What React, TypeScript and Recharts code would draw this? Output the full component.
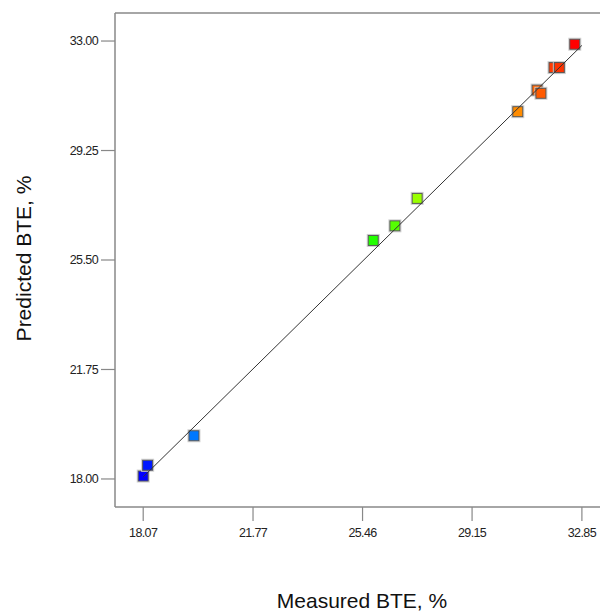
import React from "react";
import { ScatterChart, Scatter, XAxis, YAxis, Cell, ReferenceLine } from "recharts";

const measured = [18.07, 18.22, 19.78, 25.82, 26.55, 27.3, 30.69, 31.34, 31.47, 31.91, 32.09, 32.61];
const predicted = [18.1, 18.47, 19.48, 26.17, 26.67, 27.61, 30.58, 31.32, 31.21, 32.09, 32.09, 32.89];
const pointColors = [
  "#0000FF", "#0018FF", "#0078FF", "#22FF00", "#55FF00", "#99FF00",
  "#FF8C00", "#FF6400", "#FF5A00", "#FF3A00", "#FF3300", "#FF0000",
];
const xTicks = [18.07, 21.77, 25.46, 29.15, 32.85];
const yTicks = [18.0, 21.75, 25.5, 29.25, 33.0];
const lineEnds = [18.07, 32.85];

const X_MIN = 17.12;
const X_MAX = 33.46;
const Y_MIN = 17.04;
const Y_MAX = 33.96;

const points = measured.map((m, i) => ({ x: m, y: predicted[i] }));
const lineData = lineEnds.map((v) => ({ x: v, y: v }));

const Square = (props: any) => {
  const { cx, cy, fill } = props;
  if (cx == null || cy == null) return <g />;
  return (
    <g>
      <rect x={cx - 6} y={cy - 6} width={12} height={12} fill="none" stroke="#d0d0d0" strokeWidth={1} />
      <rect x={cx - 5} y={cy - 5} width={10} height={10} fill={fill} stroke="#555" strokeWidth={1} />
    </g>
  );
};

const tickStyle = { fontSize: 12.5, fill: "#222", fontFamily: "'Liberation Sans', Arial, sans-serif", letterSpacing: -0.6 };
const axisStroke = "#888";

export default function App() {
  return (
    <div
      style={{
        position: "absolute",
        left: 0,
        top: 0,
        width: 600,
        height: 612,
        overflow: "hidden",
        background: "#fff",
        fontFamily: "'Liberation Sans', Arial, sans-serif",
      }}
    >
      <ScatterChart width={600} height={612} margin={{ top: 13, right: 0, bottom: 0, left: 0 }}>
        <XAxis
          type="number"
          dataKey="x"
          domain={[X_MIN, X_MAX]}
          ticks={xTicks}
          allowDataOverflow
          height={105}
          tickSize={14}
          tickMargin={7}
          tick={tickStyle}
          tickFormatter={(v: number) => v.toFixed(2)}
          axisLine={{ stroke: axisStroke, strokeWidth: 1.5 }}
          tickLine={{ stroke: axisStroke, strokeWidth: 1.2 }}
        />
        <YAxis
          type="number"
          dataKey="y"
          domain={[Y_MIN, Y_MAX]}
          ticks={yTicks}
          allowDataOverflow
          width={115}
          tickSize={14}
          tickMargin={3}
          tick={tickStyle}
          tickFormatter={(v: number) => v.toFixed(2)}
          axisLine={{ stroke: axisStroke, strokeWidth: 1.5 }}
          tickLine={{ stroke: axisStroke, strokeWidth: 1.2 }}
        />
        <ReferenceLine y={Y_MAX} stroke={axisStroke} strokeWidth={1.5} />
        <Scatter data={points} shape={<Square />} isAnimationActive={false}>
          {points.map((_, i) => (
            <Cell key={i} fill={pointColors[i]} />
          ))}
        </Scatter>
        <Scatter
          data={lineData}
          line={{ stroke: "#333", strokeWidth: 1 }}
          shape={() => <g />}
          isAnimationActive={false}
        />
      </ScatterChart>
      <div
        style={{
          position: "absolute",
          left: 262,
          top: 590,
          width: 200,
          height: 21,
          lineHeight: "21px",
          fontSize: 21,
          textAlign: "center",
          color: "#111",
          whiteSpace: "nowrap",
        }}
      >
        Measured BTE, %
      </div>
      <div
        style={{
          position: "absolute",
          left: 23 - 100,
          top: 258 - 10.5,
          width: 200,
          height: 21,
          lineHeight: "21px",
          fontSize: 21,
          textAlign: "center",
          color: "#111",
          whiteSpace: "nowrap",
          transform: "rotate(-90deg)",
        }}
      >
        Predicted BTE, %
      </div>
    </div>
  );
}
